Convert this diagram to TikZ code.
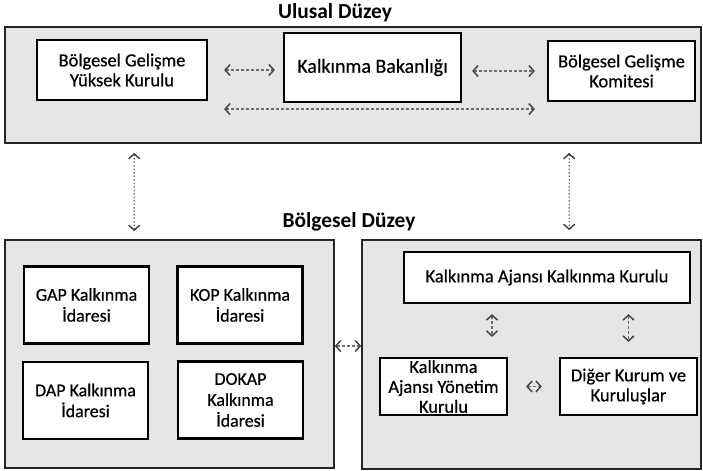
\documentclass[tikz,border=0pt]{standalone}
\usepackage{fontspec}
\setmainfont{Carlito}
\newfontfamily\scanfont{Carlito}[UprightFeatures={FakeBold=0.6}]
\usepackage{tikz}
\usetikzlibrary{arrows.meta,calc}
\definecolor{mypanel}{RGB}{230,230,230}
\definecolor{mylink}{RGB}{110,110,110}
\definecolor{mytip}{RGB}{70,70,70}

\begin{document}
\begin{tikzpicture}[x=1bp, y=-1bp,
        >={Straight Barb[length=5bp,width=11bp,line width=1.5bp,color=mytip]},
        panel/.style={draw=black!85, line width=1.6bp, fill=mypanel},
        unit/.style={draw=black, line width=2.2bp, fill=white, align=center,
            inner sep=0pt, font=\scanfont\fontsize{18.5}{20}\selectfont},
        idare/.style={unit, minimum width=125bp, minimum height=77bp,
            font=\scanfont\fontsize{18}{21}\selectfont},
        link/.style={<->, mylink, line width=1.2bp, dash pattern=on 3bp off 2bp},
        title/.style={font=\bfseries\fontsize{21.5}{22}\selectfont}]
        \useasboundingbox (0,0) rectangle (703,471);

        % -- Titles --
        \node[title] (tUlusal) at (335,13) {Ulusal Düzey};
        \node[title] (tBolge)  at (349,222) {Bölgesel Düzey};

        % -- Panels: national level on top, regional level below --
        \node[panel, minimum width=696bp, minimum height=116bp] (ulusal) at (353,85) {};
        \node[panel, minimum width=329bp, minimum height=228bp] (lowL) at (169.5,354) {};
        \node[panel, minimum width=339bp, minimum height=229bp] (lowR) at (531.5,354.5) {};

        % -- Ulusal Düzey units --
        \node[unit, minimum width=170bp, minimum height=60bp] (yuksek) at (122,70)
            {Bölgesel Gelişme\\Yüksek Kurulu};
        \node[unit, minimum width=177bp, minimum height=69bp,
            font=\scanfont\fontsize{20}{22}\selectfont] (bakanlik) at (372.5,67.5)
            {Kalkınma Bakanlığı};
        \node[unit, minimum width=147bp, minimum height=60bp] (komite) at (621.5,71)
            {Bölgesel Gelişme\\Komitesi};

        % -- Bölgesel Düzey: development administrations (left panel) --
        \node[idare] (gap)   at (86.5,305)    {GAP Kalkınma\\İdaresi};
        \node[idare] (kop)   at (240,305)     {KOP Kalkınma\\İdaresi};
        \node[idare] (dap)   at (85.5,400.5)  {DAP Kalkınma\\İdaresi};
        \node[idare] (dokap) at (240.5,400)   {DOKAP\\Kalkınma\\İdaresi};

        % -- Bölgesel Düzey: development agency (right panel) --
        \node[unit, minimum width=286bp, minimum height=51bp] (kakk) at (547,277.5)
            {Kalkınma Ajansı Kalkınma Kurulu};
        \node[unit, minimum width=127bp, minimum height=57bp] (kayk) at (443.5,386.5)
            {Kalkınma\\Ajansı Yönetim\\Kurulu};
        \node[unit, minimum width=137bp, minimum height=57bp] (diger) at (628.5,386.5)
            {Diğer Kurum ve\\Kuruluşlar};

        % -- Links inside the national panel --
        \draw[link, shorten <=16bp, shorten >=8bp] (yuksek.east) -- (yuksek.east -| bakanlik.west);
        \draw[link, shorten <=10bp, shorten >=12bp] (komite.west -| bakanlik.east) -- (komite.west);
        \draw[link] ($(yuksek.south east)+(16,8)$) -- ($(komite.south west)+(-12,7)$);

        % -- Links between the two levels --
        \draw[link, dash pattern=on 1.5bp off 2bp]
            ($(ulusal.south west)+(130,9)$) -- ($(lowL.north west)+(130,-8)$);
        \draw[link, dash pattern=on 1.5bp off 2bp]
            ($(ulusal.south west)+(565,9)$) -- ($(lowR.north west)+(208,-9)$);
        \draw[link] ($(lowL.east)+(0,-8)$) -- ($(lowR.west)+(0,-8.5)$);

        % -- Links inside the agency panel --
        \draw[link, shorten <=10bp, shorten >=20bp] (kakk.south -| 492,0) -- (kayk.north -| 492,0);
        \draw[link, shorten <=10bp, shorten >=15bp] (kakk.south -| diger.north) -- (diger.north);
        \draw[link, shorten <=18bp, shorten >=17bp] (kayk.east) -- (diger.west);

    \end{tikzpicture}
\end{document}
